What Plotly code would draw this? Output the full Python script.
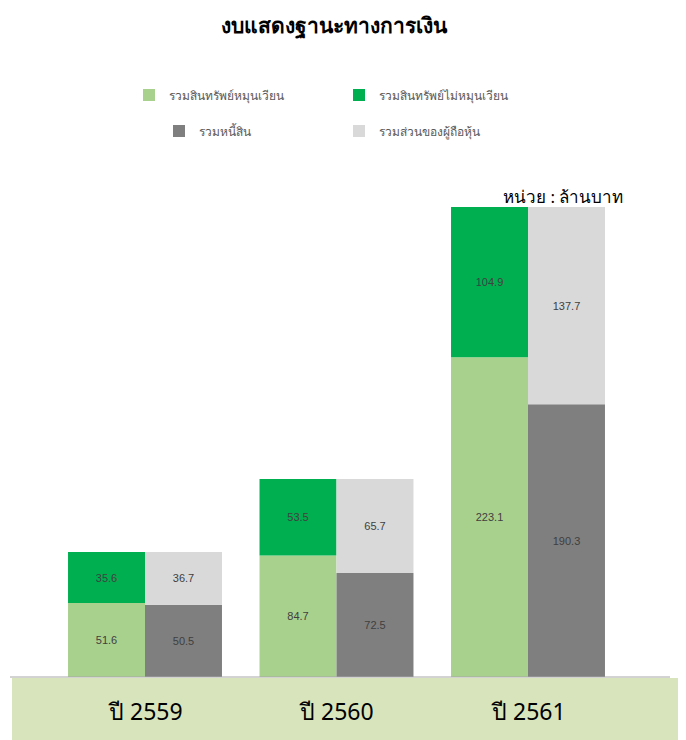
import plotly.graph_objects as go

years = ["ปี 2559", "ปี 2560", "ปี 2561"]
current_assets = [51.6, 84.7, 223.1]
noncurrent_assets = [35.6, 53.5, 104.9]
total_liabilities = [50.5, 72.5, 190.3]
total_equity = [36.7, 65.7, 137.7]

names = ["รวมสินทรัพย์หมุนเวียน", "รวมสินทรัพย์ไม่หมุนเวียน", "รวมหนี้สิน", "รวมส่วนของผู้ถือหุ้น"]
colors = ["#a9d18e", "#00b050", "#7f7f7f", "#d9d9d9"]

FONT = "Tahoma, 'Noto Sans', Arial, sans-serif"

fig = go.Figure()
series = [
    (current_assets, None, "assets", "legend"),
    (noncurrent_assets, current_assets, "assets", "legend2"),
    (total_liabilities, None, "liab", "legend3"),
    (total_equity, total_liabilities, "liab", "legend4"),
]
for i, (vals, base, grp, lg) in enumerate(series):
    fig.add_trace(go.Bar(
        x=years, y=vals, base=base, name=names[i], offsetgroup=grp,
        marker=dict(color=colors[i], line=dict(width=0)),
        text=[f"{v:.1f}" for v in vals], textposition="inside",
        insidetextanchor="middle", textangle=0,
        textfont=dict(size=11, color="#404040", family="Arial, 'Liberation Sans', sans-serif"),
        legend=lg, hoverinfo="skip",
    ))

OFF = 8  # page body margin
W, H = 686 - OFF, 740 - OFF
top, bottom = 160 - OFF, 677 - OFF
ph = bottom - top

def py(pix_page):
    return (bottom - (pix_page - OFF)) / ph

def px(pix_page):
    return (pix_page - OFF) / W

legend_common = dict(orientation="h", xanchor="left", yanchor="middle",
                     font=dict(size=12, color="#595959", family=FONT),
                     bgcolor="rgba(0,0,0,0)", itemwidth=30)

fig.update_layout(
    width=W, height=H,
    margin=dict(l=0, r=0, t=top, b=H - bottom),
    paper_bgcolor="white", plot_bgcolor="white",
    barmode="group", bargap=0.196, bargroupgap=0,
    title=dict(text="<b>งบแสดงฐานะทางการเงิน</b>", x=px(334), xanchor="center",
               y=1 - (26 - OFF) / H, yanchor="middle",
               font=dict(size=21, color="#000000", family=FONT)),
    xaxis=dict(range=[-(145 - OFF) / 191.5, 2 + (686 - 528) / 191.5], showticklabels=False,
               showgrid=False, zeroline=False, showline=False, ticks=""),
    yaxis=dict(range=[0, ph / 1.433], visible=False),
    legend=dict(legend_common, x=px(161 - 40 + OFF), y=py(95)),
    legend2=dict(legend_common, x=px(371 - 40 + OFF), y=py(95)),
    legend3=dict(legend_common, x=px(191 - 40 + OFF), y=py(131)),
    legend4=dict(legend_common, x=px(371 - 40 + OFF), y=py(131)),
    showlegend=True,
    font=dict(family=FONT),
)

# bottom band and baseline
fig.add_shape(type="rect", xref="paper", yref="paper", x0=px(12), x1=1,
              y0=py(741), y1=py(678), fillcolor="#d8e4bc", line=dict(width=0), layer="below")
fig.add_shape(type="line", xref="paper", yref="paper", x0=px(10), x1=px(670),
              y0=0, y1=0, line=dict(color="#a6a6a6", width=1))

for yr in years:
    fig.add_annotation(x=yr, xref="x", y=py(711), yref="paper", text=yr, showarrow=False,
                       xanchor="center", yanchor="middle",
                       font=dict(size=23, color="#000000", family=FONT))

fig.add_annotation(x=px(625), xref="paper", y=py(196), yref="paper", text="หน่วย : ล้านบาท",
                   showarrow=False, xanchor="right", yanchor="middle",
                   font=dict(size=17, color="#000000", family=FONT))

fig.write_html("out.html")
